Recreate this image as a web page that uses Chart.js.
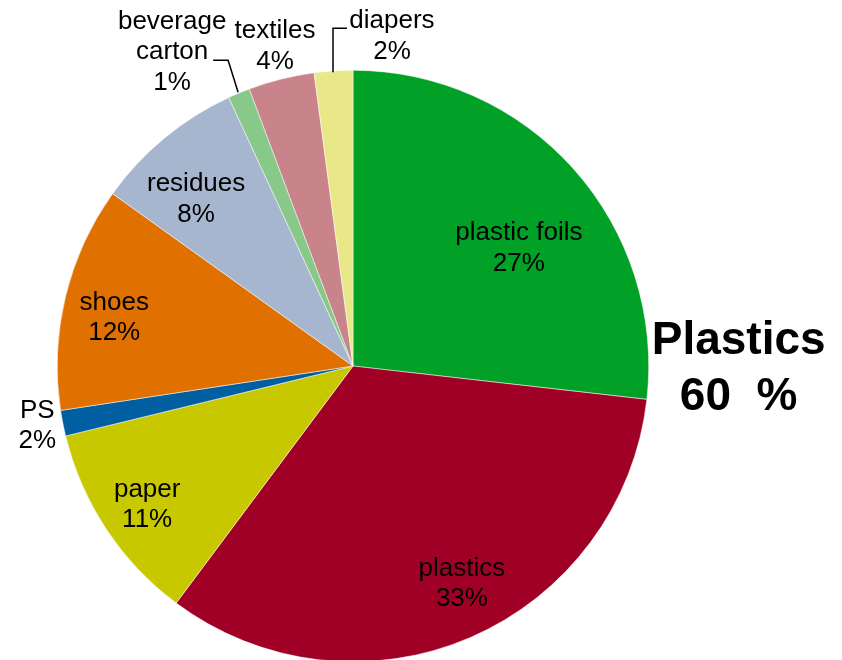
<!DOCTYPE html>
<html>
<head>
<meta charset="utf-8">
<script src="https://cdn.jsdelivr.net/npm/chart.js@4"></script>
<style>
  html, body { margin: 0; padding: 0; background: #fff; overflow: hidden; }
  #wrap { width: 842px; height: 664px; position: relative; }
</style>
</head>
<body>
<div id="wrap"><canvas id="pie"></canvas></div>
<script>
const categories = ['plastic foils', 'plastics', 'paper', 'PS', 'shoes', 'residues', 'beverage carton', 'textiles', 'diapers'];
const shares = [26.8, 33.4, 11.0, 1.4, 12.3, 8.2, 1.2, 3.6, 2.1];
const pctLabels = ['27%', '33%', '11%', '2%', '12%', '8%', '1%', '4%', '2%'];
const sliceColors = ['#00a126', '#a00026', '#c8c800', '#005fa0', '#e07000', '#a6b6ce', '#88c888', '#c8848a', '#e8e888'];

// label text lines per slice and where they sit, relative to the pie centre (in pixels for R = 296)
const labelLayout = [
    { lines: ['plastic foils', '27%'], dx: 166, dy: -118 },
    { lines: ['plastics', '33%'], dx: 109, dy: 218 },
    { lines: ['paper', '11%'], dx: -206, dy: 139 },
    { lines: ['PS', '2%'], dx: -316, dy: 60 },
    { lines: ['shoes', '12%'], dx: -239, dy: -48 },
    { lines: ['residues', '8%'], dx: -157, dy: -167 },
    { lines: ['beverage', 'carton', '1%'], dx: -181, dy: -314, leader: [[-115, -274], [-125, -306], [-140, -306]] },
    { lines: ['textiles', '4%'], dx: -78, dy: -320 },
    { lines: ['diapers', '2%'], dx: 39, dy: -330, leader: [[-20, -294], [-20, -338], [-6, -338]] }
];

const labelPlugin = {
    id: 'sliceLabels',
    afterDraw(chart) {
        const ctx = chart.ctx;
        const arc = chart.getDatasetMeta(0).data[0];
        const cx = arc.x, cy = arc.y;
        const k = arc.outerRadius / 296;
        ctx.save();
        ctx.fillStyle = '#000';
        ctx.strokeStyle = '#000';
        ctx.lineWidth = 1.5;
        ctx.textAlign = 'center';
        ctx.textBaseline = 'middle';
        ctx.font = '26px "Liberation Sans", Arial, sans-serif';
        labelLayout.forEach(function (lab, i) {
            lab.lines[lab.lines.length - 1] = pctLabels[i];
            const n = lab.lines.length;
            lab.lines.forEach(function (t, j) {
                ctx.fillText(t, cx + lab.dx * k, cy + lab.dy * k + (j - (n - 1) / 2) * 30.5);
            });
            if (lab.leader) {
                ctx.beginPath();
                lab.leader.forEach(function (p, j) {
                    const px = cx + p[0] * k, py = cy + p[1] * k;
                    if (j === 0) ctx.moveTo(px, py); else ctx.lineTo(px, py);
                });
                ctx.stroke();
            }
        });
        // group total of the two plastic slices
        const plasticTotal = Math.round(shares[0] + shares[1]);
        ctx.font = 'bold 46px "Liberation Sans", Arial, sans-serif';
        ctx.fillText('Plastics', cx + 386 * k, cy - 25 * k);
        ctx.fillText(plasticTotal + '  %', cx + 386 * k, cy + 31 * k);
        ctx.restore();
    }
};

const pieChart = new Chart(document.getElementById('pie').getContext('2d'), {
    type: 'pie',
    data: {
        labels: categories,
        datasets: [{
            data: shares,
            backgroundColor: sliceColors,
            borderColor: '#ffffff',
            borderWidth: 0.5
        }]
    },
    options: {
        responsive: true,
        maintainAspectRatio: false,
        animation: false,
        layout: { padding: { left: 57, right: 193, top: 70, bottom: 2 } },
        plugins: {
            legend: { display: false },
            tooltip: { enabled: false }
        }
    },
    plugins: [labelPlugin]
});
</script>
</body>
</html>
